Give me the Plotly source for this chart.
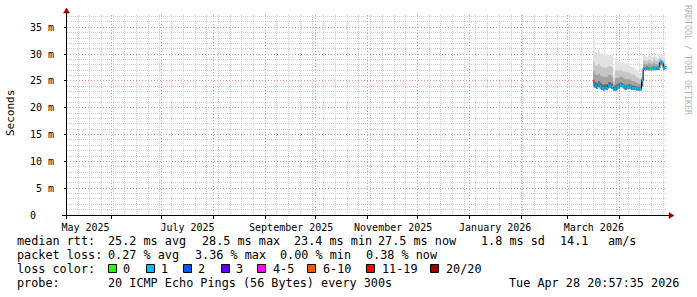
import pandas as pd
import plotly.graph_objects as go

W, H = 697, 297

# ---------------- data ----------------
days = pd.date_range("2026-03-16", "2026-04-28", freq="D")

median_ms = [24.4, 24.0, 23.8, 24.2, 23.9, 23.6, 23.5, 23.6, 23.6, 24.1, 24.0, 23.8, 23.4, 23.4, 23.7, 23.9,
             24.2, 24.1, 23.9, 23.6, 23.8, 23.9, 23.8, 23.6, 23.6, 23.6, 23.5, 23.5, 23.5, 25.1,
             27.3, 27.3, 27.4, 27.3, 27.3, 27.3, 27.4, 27.3, 27.4, 27.4, 28.5, 28.3, 27.4, 27.5]
ping_lo = [24.0, 23.7, 23.5, 23.9, 23.6, 23.3, 23.2, 23.3, 23.3, 23.8, 23.7, 23.5, 23.1, 23.1, 23.4, 23.6,
           23.9, 23.8, 23.6, 23.3, 23.5, 23.6, 23.5, 23.3, 23.3, 23.3, 23.2, 23.2, 23.2, 24.0,
           27.0, 27.0, 27.1, 27.0, 27.0, 27.0, 27.1, 27.0, 27.1, 27.1, 28.1, 27.9, 27.1, 27.2]
ping_p60 = [25.2, 24.8, 24.6, 25.0, 24.7, 24.4, 24.3, 24.4, 24.4, 24.8, 24.7, 24.5, 23.8, 24.2, 24.4, 24.5,
            24.7, 24.6, 24.4, 24.1, 24.3, 24.4, 24.3, 24.1, 24.1, 24.0, 23.9, 23.9, 23.9, 25.3,
            27.6, 27.6, 27.7, 27.6, 27.6, 27.6, 27.7, 27.6, 27.7, 27.7, 28.7, 28.5, 27.7, 27.8]
ping_p75 = [26.8, 26.2, 26.0, 26.4, 26.0, 25.8, 25.8, 25.7, 25.8, 26.1, 26.1, 25.8, 24.3, 25.5, 25.6, 25.6,
            25.8, 25.7, 25.5, 25.3, 25.4, 25.3, 25.2, 25.0, 25.0, 24.8, 24.6, 24.5, 24.4, 25.5,
            28.2, 28.1, 28.1, 28.3, 28.2, 28.0, 28.4, 28.1, 28.1, 28.4, 28.9, 28.7, 28.1, 28.1]
ping_p90 = [28.6, 27.9, 27.8, 28.2, 27.7, 27.5, 27.6, 27.4, 27.6, 27.7, 27.8, 27.5, 24.9, 26.9, 27.0, 26.9,
            27.0, 26.9, 26.8, 26.6, 26.7, 26.5, 26.4, 26.2, 26.3, 25.9, 25.7, 25.5, 25.4, 25.8,
            28.9, 28.7, 28.7, 29.0, 28.8, 28.6, 29.2, 28.8, 28.6, 29.1, 29.2, 29.0, 28.7, 28.6]
ping_hi = [32.7, 30.4, 30.2, 31.0, 30.1, 29.9, 30.0, 29.8, 30.0, 29.9, 30.1, 29.8, 25.6, 28.6, 28.7, 28.5,
           28.6, 28.4, 28.5, 28.2, 28.3, 28.0, 27.8, 27.6, 27.7, 27.2, 26.9, 26.6, 26.5, 26.8,
           29.8, 29.6, 29.5, 29.9, 29.7, 29.4, 30.2, 29.6, 29.3, 30.0, 29.8, 29.9, 29.5, 29.3]
loss_pct = [0.45, 0.20, 0.15, 0.30, 0.10, 0.25, 0.35, 0.15, 0.20, 0.10, 0.30, 0.25, 3.36, 0.40, 0.20, 0.15,
            0.10, 0.25, 0.30, 0.20, 0.15, 0.10, 0.20, 0.30, 0.25, 0.15, 0.20, 0.10, 0.15, 0.30,
            0.25, 0.20, 0.15, 0.10, 0.00, 0.20, 0.30, 0.25, 0.15, 0.20, 0.35, 0.30, 0.25, 0.38]
pings = 20

loss_limits = [0, 1, 2, 3, 5, 10, 19, 20]
loss_labels = ["0", "1", "2", "3", "4-5", "6-10", "11-19", "20/20"]
loss_colors = ["#26ff00", "#00b8ff", "#0059ff", "#5e00ff", "#ff00ff", "#ff5500", "#ff0000", "#a10000"]

x_range = ["2025-05-05 10:00", "2026-04-29 06:00"]
month_grid = pd.date_range("2025-06-01", "2026-04-01", freq="MS")
week_grid = [d for d in pd.date_range("2025-05-12", "2026-04-27", freq="7D") if d not in set(month_grid)]
label_dates = ["2025-05-16 12:00", "2025-07-16 12:00", "2025-09-16 12:00",
               "2025-11-16 12:00", "2026-01-16 12:00", "2026-03-16 12:00"]
label_text = ["May 2025", "July 2025", "September 2025", "November 2025", "January 2026", "March 2026"]
y_ticks = [0, 5, 10, 15, 20, 25, 30, 35]
y_text = ["0\u00a0\u00a0\u00a0", "5 m", "10 m", "15 m", "20 m", "25 m", "30 m", "35 m"]
y_minor = [v for v in range(1, 38) if v % 5]
y_max = 37.29

stats_rtt = ["median rtt:", "25.2 ms avg", "28.5 ms max", "23.4 ms min", "27.5 ms now", "1.8 ms sd", "14.1", "am/s"]
stats_loss = ["packet loss:", "0.27 % avg", "3.36 % max", "0.00 % min", "0.38 % now"]
probe_text = ["probe:", "20 ICMP Echo Pings (56 Bytes) every 300s"]
stamp_text = "Tue Apr 28 20:57:35 2026"

# ---------------- figure ----------------
MONO = "DejaVu Sans Mono"
fig = go.Figure()

# smoke bands
smoke = [(ping_hi, "#e2e2e2"), (ping_p90, "#c6c6c6"), (ping_p75, "#a2a2a2"), (ping_p60, "#6a6a6a")]
for upper, col in smoke:
    fig.add_trace(go.Scatter(x=days, y=ping_lo, mode="lines", line=dict(width=0, shape="hv"),
                             hoverinfo="skip", showlegend=False))
    fig.add_trace(go.Scatter(x=days, y=upper, mode="lines", line=dict(width=0, shape="hv"),
                             fill="tonexty", fillcolor=col, hoverinfo="skip", showlegend=False))

# thin dark median line (top layer axis)
fig.add_trace(go.Scatter(x=days, y=median_ms, mode="lines", xaxis="x2",
                         line=dict(color="#000000", width=1, shape="hv"), showlegend=False))

# coloured median by loss
def bucket(pct):
    n = pct / 100.0 * pings
    for i, lim in enumerate(loss_limits):
        if n <= lim:
            return i
    return len(loss_limits) - 1

seg = {i: ([], []) for i in range(len(loss_limits))}
one_day = pd.Timedelta(days=1)
for i, d in enumerate(days):
    b = bucket(loss_pct[i])
    x1 = days[i + 1] if i + 1 < len(days) else d + one_day
    seg[b][0].extend([d, x1, None])
    seg[b][1].extend([median_ms[i], median_ms[i], None])
for b, (xs, ys) in seg.items():
    if xs:
        fig.add_trace(go.Scatter(x=xs, y=ys, mode="lines", xaxis="x2",
                                 line=dict(color=loss_colors[b], width=3), showlegend=False))

x0p, x1p = 67 / W, 667 / W
y0p, y1p = 1 - 215 / H, 1 - 15 / H
GRIDG = "#cfcfcf"
GRIDR = "#ee9090"
DASH_MAJ = "1px,2px"
DASH_MIN = "1px,1px"

fig.update_layout(
    width=W, height=H, margin=dict(l=0, r=0, t=0, b=0, pad=0, autoexpand=False),
    paper_bgcolor="white", plot_bgcolor="white", showlegend=False,
    xaxis=dict(domain=[x0p, x1p], type="date", range=x_range, anchor="y", automargin=False,
               tickmode="array", tickvals=list(month_grid), showticklabels=False,
               ticks="outside", ticklen=3, tickcolor="#000000",
               showgrid=True, gridcolor=GRIDR, griddash=DASH_MAJ, gridwidth=1,
               minor=dict(tickmode="array", tickvals=week_grid,
                          showgrid=True, gridcolor=GRIDG, griddash=DASH_MIN, ticks=""),
               showline=False, zeroline=False, fixedrange=True),
    xaxis2=dict(type="date", range=x_range, overlaying="x", anchor="y", side="bottom",
                automargin=False,
                tickmode="array", tickvals=label_dates, ticktext=label_text,
                tickfont=dict(family=MONO, size=10, color="#000000"),
                ticks="", ticklabelstandoff=5,
                showgrid=False, showline=False, zeroline=False),
    yaxis=dict(domain=[y0p, y1p], range=[0, y_max], anchor="x", automargin=False,
               tickmode="array", tickvals=y_ticks, ticktext=y_text,
               tickfont=dict(family=MONO, size=10, color="#000000"),
               ticks="outside", ticklen=2, tickcolor="#000000", ticklabelstandoff=8,
               showgrid=True, gridcolor=GRIDR, griddash=DASH_MAJ, gridwidth=1,
               minor=dict(tickmode="array", tickvals=y_minor, showgrid=True,
                          gridcolor=GRIDG, griddash=DASH_MIN, ticks=""),
               showline=False, zeroline=False),
)

def px(x):
    return x / W

def py(y):
    return 1 - y / H

# axis lines and arrows
shapes = [
    dict(type="line", xref="paper", yref="paper", x0=px(62), x1=px(670), y0=py(215.5), y1=py(215.5),
         line=dict(color="#000000", width=1)),
    dict(type="line", xref="paper", yref="paper", x0=px(66.5), x1=px(66.5), y0=py(219), y1=py(12),
         line=dict(color="#000000", width=1)),
    dict(type="path", xref="paper", yref="paper",
         path=f"M {px(669)},{py(212.5)} L {px(674)},{py(215.5)} L {px(669)},{py(218.5)} Z",
         fillcolor="#a00000", line=dict(color="#a00000", width=0.5)),
    dict(type="path", xref="paper", yref="paper",
         path=f"M {px(63.5)},{py(13)} L {px(66.5)},{py(8)} L {px(69.5)},{py(13)} Z",
         fillcolor="#a00000", line=dict(color="#a00000", width=0.5)),
]

# loss-colour swatches
sw_x = [108, 146, 183, 221, 257, 307, 366, 430]
lab_x = [122, 160, 197, 235, 272, 322, 381, 445]
for i, c in enumerate(loss_colors):
    shapes.append(dict(type="rect", xref="paper", yref="paper",
                       x0=px(sw_x[i] + 0.5), x1=px(sw_x[i] + 8.5), y0=py(272.5), y1=py(264.5),
                       fillcolor=c, line=dict(color="#000000", width=1)))
fig.update_layout(shapes=shapes)

ann = []

def txt(x, y, s, anchor="left", size=11.8, color="#000000", angle=0):
    ann.append(dict(x=px(x), y=py(y), xref="paper", yref="paper", text=s, showarrow=False,
                    xanchor=anchor, yanchor="middle", textangle=angle, borderpad=0,
                    font=dict(family=MONO, size=size, color=color)))

row1_x = [16, 107, 201, 293, 377, 480, 559, 607]
for x, s in zip(row1_x, stats_rtt):
    txt(x, 241, s)
row2_x = [16, 107, 194, 279, 365]
for x, s in zip(row2_x, stats_loss):
    txt(x, 255, s)
txt(16, 269, "loss color:")
for x, s in zip(lab_x, loss_labels):
    txt(x, 269, s)
txt(16, 282.5, probe_text[0])
txt(107, 282.5, probe_text[1])
txt(680, 282.5, stamp_text, anchor="right")

# axis title and watermark
ann.append(dict(x=px(11), y=py(113), xref="paper", yref="paper", text="Seconds", showarrow=False,
                xanchor="center", yanchor="middle", textangle=-90,
                font=dict(family=MONO, size=11, color="#000000")))
ann.append(dict(x=px(688), y=py(60), xref="paper", yref="paper", text="RRDTOOL / TOBI OETIKER",
                showarrow=False, xanchor="center", yanchor="middle", textangle=90,
                font=dict(family=MONO, size=8.3, color="#b4b4b4")))
fig.update_layout(annotations=ann)

fig.write_html("out.html")
